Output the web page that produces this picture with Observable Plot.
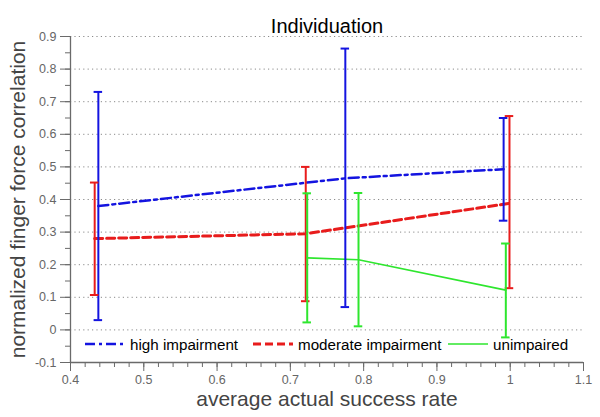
<!DOCTYPE html>
<html>
<head>
<meta charset="utf-8">
<script src="https://cdn.jsdelivr.net/npm/d3@7"></script>
<script src="https://cdn.jsdelivr.net/npm/@observablehq/plot@0.6"></script>
<style>
  body { margin: 0; background: #fff; }
  #wrap { position: relative; width: 600px; height: 417px; font-family: Arial, "Liberation Sans", sans-serif; }
  #legend { position: absolute; top: 335px; left: 85px; height: 18px; width: 500px; font-size: 15.2px; color: #000; }
  .item { position: absolute; top: 0; height: 18px; display: flex; align-items: center; white-space: nowrap; }
  .item svg { display: block; }
  .item span { margin-left: 5px; }
</style>
</head>
<body>
<div id="wrap"><div id="legend"></div></div>
<script>
// ---- data ----
const seriesNames = ["high impairment", "moderate impairment", "unimpaired"];
const seriesColors = ["#1414e0", "#e81c1c", "#2ee62e"];

const highX    = [0.438, 0.775, 0.991];
const highMean = [0.380, 0.465, 0.493];
const highLo   = [0.030, 0.070, 0.335];
const highHi   = [0.730, 0.863, 0.650];

const modX    = [0.433, 0.721, 0.999];
const modMean = [0.280, 0.295, 0.388];
const modLo   = [0.107, 0.088, 0.128];
const modHi   = [0.452, 0.500, 0.656];

const unX    = [0.723, 0.793, 0.994];
const unMean = [0.221, 0.215, 0.122];
const unLo   = [0.023, 0.011, -0.023];
const unHi   = [0.419, 0.420, 0.265];

const xTicks = [0.4, 0.5, 0.6, 0.7, 0.8, 0.9, 1.0, 1.1];
const xTickLabels = ["0.4", "0.5", "0.6", "0.7", "0.8", "0.9", "1", "1.1"];
const yTicks = [-0.1, 0, 0.1, 0.2, 0.3, 0.4, 0.5, 0.6, 0.7, 0.8, 0.9];
const yTickLabels = ["-0.1", "0", "0.1", "0.2", "0.3", "0.4", "0.5", "0.6", "0.7", "0.8", "0.9"];

const titleText = "Individuation";
const xLabel = "average actual success rate";
const yLabel = "normalized finger force correlation";

// ---- build table ----
function rows(name, xs, m, lo, hi) {
  return xs.map((x, i) => ({series: name, x, mean: m[i], lo: lo[i], hi: hi[i]}));
}
const data = [
  ...rows(seriesNames[0], highX, highMean, highLo, highHi),
  ...rows(seriesNames[1], modX, modMean, modLo, modHi),
  ...rows(seriesNames[2], unX, unMean, unLo, unHi)
];
const colorOf = Object.fromEntries(seriesNames.map((n, i) => [n, seriesColors[i]]));
const dashOf = {
  [seriesNames[0]]: "10,4,3,4",
  [seriesNames[1]]: "8,4",
  [seriesNames[2]]: null
};
const widthOf = {[seriesNames[0]]: 2.5, [seriesNames[1]]: 3, [seriesNames[2]]: 1.6};
const capHalf = 0.0058;
const axisGray = "#6a6a6a";

const xMinor = d3.range(0.4, 1.1001, 0.02);
const yMinor = d3.range(-0.1, 0.9001, 0.05);
const fmtX = d => xTickLabels[xTicks.findIndex(t => Math.abs(t - d) < 1e-9)];
const fmtY = d => yTickLabels[yTicks.findIndex(t => Math.abs(t - d) < 1e-9)];

const marks = [
  // grid (dotted)
  Plot.ruleY(yTicks.slice(1), {stroke: "#8a8a8a", strokeDasharray: "1.2,3.2", strokeWidth: 1}),
  // minor ticks
  Plot.axisX(xMinor, {tickSize: 5, tickFormat: null, stroke: axisGray, text: null, label: null}),
  Plot.axisY(yMinor, {tickSize: 5, tickFormat: null, stroke: axisGray, text: null, label: null}),
  // major ticks + labels
  Plot.axisX(xTicks, {tickSize: 9, tickPadding: 4, tickFormat: fmtX, stroke: axisGray, fill: "#666", fontSize: 12.5, label: null}),
  Plot.axisY(yTicks, {tickSize: 10, tickPadding: 4, tickFormat: fmtY, stroke: axisGray, fill: "#666", fontSize: 12.5, label: null}),
  // axis lines
  Plot.ruleX([0.4], {stroke: axisGray, strokeWidth: 1.3}),
  Plot.ruleY([-0.1], {stroke: axisGray, strokeWidth: 1.3}),
  // mean lines
  ...seriesNames.map(n => Plot.line(data.filter(d => d.series === n), {
    x: "x", y: "mean", stroke: colorOf[n], strokeWidth: widthOf[n], strokeDasharray: dashOf[n]
  })),
  // error bars
  ...seriesNames.map(n => {
    const sub = data.filter(d => d.series === n);
    return [
      Plot.ruleX(sub, {x: "x", y1: "lo", y2: "hi", stroke: colorOf[n], strokeWidth: 2}),
      Plot.ruleY(sub, {y: "hi", x1: d => d.x - capHalf, x2: d => d.x + capHalf, stroke: colorOf[n], strokeWidth: 2}),
      Plot.ruleY(sub, {y: "lo", x1: d => d.x - capHalf, x2: d => d.x + capHalf, stroke: colorOf[n], strokeWidth: 2})
    ];
  }),
  // title and axis labels
  Plot.text([titleText], {frameAnchor: "top", dy: -18, fontSize: 20, fill: "#000", textAnchor: "middle"}),
  Plot.text([xLabel], {frameAnchor: "bottom", dy: 43, fontSize: 21, fill: "#444", textAnchor: "middle"}),
  Plot.text([yLabel], {frameAnchor: "left", dx: -52, rotate: -90, fontSize: 21, fill: "#444", textAnchor: "middle"})
];

const chart = Plot.plot({
  width: 600,
  height: 417,
  marginLeft: 70,
  marginRight: 17,
  marginTop: 36,
  marginBottom: 55,
  style: {fontFamily: "Arial, 'Liberation Sans', sans-serif", background: "#fff"},
  x: {domain: [0.4, 1.1], axis: null},
  y: {domain: [-0.1, 0.9], axis: null},
  marks
});
document.getElementById("wrap").prepend(chart);

// ---- legend (HTML overlay) ----
const legendLeft = [0, 168, 363];
const legend = document.getElementById("legend");
seriesNames.forEach((n, i) => {
  const item = document.createElement("div");
  item.className = "item";
  item.style.left = legendLeft[i] + "px";
  const dash = dashOf[n] ? `stroke-dasharray="${dashOf[n]}"` : "";
  item.innerHTML = `<svg width="40" height="18"><line x1="0" x2="40" y1="9" y2="9" stroke="${colorOf[n]}" stroke-width="${widthOf[n]}" ${dash}/></svg><span>${n}</span>`;
  legend.appendChild(item);
});
</script>
</body>
</html>
